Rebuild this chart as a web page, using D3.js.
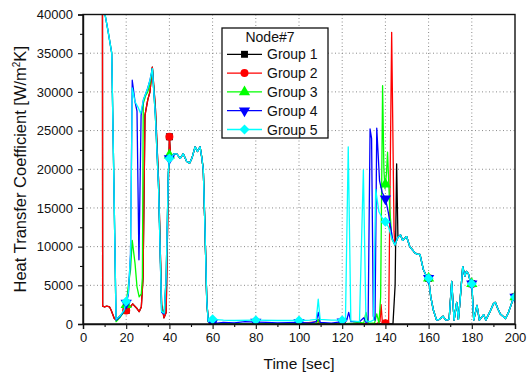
<!DOCTYPE html>
<html>
<head>
<meta charset="utf-8">
<script src="https://cdn.jsdelivr.net/npm/d3@7"></script>
<style>
  html, body { margin: 0; padding: 0; background: #fff; }
  svg { display: block; font-family: "Liberation Sans", Arial, sans-serif; }
</style>
</head>
<body>
<svg id="chart" width="530" height="376"></svg>
<script>
// ---- data: time [s], heat transfer coefficient [W/m2K] ----
const groupNames = ["Group 1", "Group 2", "Group 3", "Group 4", "Group 5"];
const groupColors = ["#000000", "#ff0000", "#00ff00", "#0000ff", "#00ffff"];
const legendTitle = "Node#7";
const xTicks = [0, 20, 40, 60, 80, 100, 120, 140, 160, 180, 200];
const yTicks = [0, 5000, 10000, 15000, 20000, 25000, 30000, 35000, 40000];
const markerTimes = [20, 40, 60, 80, 100, 120, 140, 160, 180, 200];

// plateau shared by all groups between 40 s and 58 s
const plateau = [[41,21500],[42,22000],[43.4,22000],[45,21400],[46.4,22000],[48,21000],[49.4,20800],
  [50.5,21500],[51.9,22900],[53,22300],[54.2,22900],[55,21500],[55.7,19900],[56.5,12000],[57.3,3000],[58,300]];

// common decay after the rewet around 145 s
const tail = [[145.8,11200],[147,11500],[148,10800],[149.8,11300],[151.3,10000],[152.5,9600],[153.6,9200],
  [155,9000],[156,9000],[157.6,7000],[159,6200],[160,5900],[161,3500],[162.2,1800],[163.7,500],[165,600],
  [166.7,1000],[168,500],[169.5,600],[170.7,5500],[171.8,500],[173,2800],[173.8,600],[174.5,2800],
  [175.8,7400],[176.8,6200],[177.5,6800],[178.4,6500],[179.3,5500],[180,5200],[180.9,500],[182.4,2400],
  [183.5,500],[185.5,1200],[186.5,500],[188.6,1700],[190,2600],[190.9,2800],[192,2000],[193.2,1300],
  [195.6,700],[197,1500],[199.2,3300],[200,3500]];

const early1 = [[0,46000],[9,45000],[9.1,2300],[10,2200],[11,2300],[12.3,2200],[13,1800],[14.5,700],
  [15.3,600],[17,1000],[19,1500],[20.2,1800],[21,2500],[22,2200],[23,2600],[24,2300],[25,2000],[26,1600],
  [27,2200],[27.8,6000],[28.7,27000],[30,29000],[31,30000],[32.1,33200],[33.5,28000],[35,18500],
  [36.4,2500],[37.5,800],[38.5,1500],[39.5,18000],[40,24200],[40.6,21500]];
const late1 = [[59,0],[60,0],[80,0],[100,0],[120,0],[140,0],[143.5,0],[144.5,5000],[145.2,20700]];

const early2 = early1;
const late2 = [[59,0],[60,50],[80,50],[100,50],[108.9,300],[110,50],[120,50],[136,50],[137.5,300],
  [138,2500],[138.6,200],[140,100],[141.5,200],[142.9,37700],[144,12000],[144.4,10200]];

const early3 = [[0,46000],[10.2,40000],[11.5,38000],[13.3,35000],[14.2,20000],[15.3,300],[17,800],
  [19,1600],[20,2500],[21,5000],[22,7000],[22.8,10800],[24.1,7800],[25,4800],[26,3500],[27,3900],
  [27.5,6000],[27.9,28500],[29,29500],[30,30000],[31,31000],[32.1,33000],[33.5,27000],[35,17500],
  [36.4,1800],[37.6,1400],[38.5,6000],[39.5,19500],[40,21800]];
const late3 = [[59,0],[60,0],[70,50],[80,0],[90,50],[100,0],[108,100],[108.9,600],[109.8,50],[120,0],
  [125,100],[128,200],[130,100],[131,1500],[132,100],[135,100],[136,1300],[137,100],[137.8,3500],
  [138.7,30800],[139.3,20000],[139.8,17500],[140.5,19500],[141,22200],[142,15000],[143,11000],[144.4,10200]];

const early4 = [[0,46000],[10.2,40000],[11.5,38000],[13.3,35000],[14.2,20000],[15.3,500],[17,900],
  [19,1700],[20,2700],[21,3800],[22,9000],[22.8,31500],[24.1,28700],[25,27500],[25.9,8300],[26.9,27000],
  [28,29000],[30,30500],[31,31500],[32.1,33000],[33.5,27000],[35,17500],[36.4,1500],[37.6,1300],
  [38.5,6000],[39.5,19500],[40,21400]];
const late4 = [[59,100],[60,200],[62,100],[65,200],[70,150],[75,300],[80,250],[85,200],[90,150],
  [100,200],[105,100],[108,300],[108.9,1500],[109.8,200],[115,100],[120,300],[122,400],[123,1500],
  [124,300],[128,300],[130,800],[131,200],[132,300],[132.9,25200],[133.6,24000],[134.4,1000],[135.2,500],
  [136,25300],[137.3,18500],[138.5,17000],[140,16200],[141.3,14500],[143.3,11000],[144.4,10200]];

const early5 = [[0,46000],[10.2,40000],[11.5,38000],[13.3,35000],[14.2,20000],[15.3,600],[17,1000],
  [19,1800],[20,2900],[21,4000],[22,9000],[22.8,30500],[24.1,28700],[25.5,28000],[26.7,27200],
  [28,29000],[30,30500],[31,31500],[32.1,33000],[33.5,27000],[35,17500],[36.4,1600],[37.6,1400],
  [38.5,6000],[39.5,19500],[40,21400]];
const late5 = [[59,500],[60,600],[65,500],[70,450],[80,500],[90,450],[100,450],[105,500],[108,600],
  [108.9,3200],[109.8,600],[115,500],[120,500],[121.5,400],[122.8,22900],[124,400],[128,300],
  [129.8,19900],[131,400],[133,300],[134.5,500],[135.5,17400],[137,14500],[138.5,13700],[140,13200],
  [141.5,12500],[143,11000],[144.4,10200]];

const series = [
  early1.concat(plateau, late1, tail),
  early2.concat(plateau, late2, tail),
  early3.concat(plateau, late3, tail),
  early4.concat(plateau, late4, tail),
  early5.concat(plateau, late5, tail)
];

// ---- layout ----
const svg = d3.select("#chart");
const plot = { left: 83, top: 14.5, right: 515, bottom: 324 };

const x = d3.scaleLinear().domain([0, 200]).range([plot.left, plot.right]);
const y = d3.scaleLinear().domain([0, 40000]).range([plot.bottom, plot.top]);

// grid
const grid = svg.append("g").attr("stroke", "#8a8a8a").attr("stroke-width", 1)
  .attr("stroke-dasharray", "1,2.5");
grid.selectAll("line.gx").data(xTicks.filter(d => d > 0 && d < 200)).join("line")
  .attr("x1", d => x(d)).attr("x2", d => x(d)).attr("y1", plot.top).attr("y2", plot.bottom);
grid.selectAll("line.gy").data(yTicks.filter(d => d > 0 && d < 40000)).join("line")
  .attr("x1", plot.left).attr("x2", plot.right).attr("y1", d => y(d)).attr("y2", d => y(d));

svg.append("defs").append("clipPath").attr("id", "plotClip")
  .append("rect").attr("x", plot.left).attr("y", plot.top)
  .attr("width", plot.right - plot.left).attr("height", plot.bottom - plot.top);

// symbols per group
const symbolDefs = [
  { type: d3.symbolSquare, size: 48, rot: 0 },
  { type: d3.symbolCircle, size: 50, rot: 0 },
  { type: d3.symbolTriangle, size: 55, rot: 0 },
  { type: d3.symbolTriangle, size: 55, rot: 180 },
  { type: d3.symbolSquare, size: 50, rot: 45 }
];

function valueAt(data, t) {
  const i = d3.bisector(d => d[0]).left(data, t);
  if (i <= 0) return data[0][1];
  if (i >= data.length) return data[data.length - 1][1];
  const a = data[i - 1], b = data[i];
  if (b[0] === t) return b[1];
  return a[1] + (b[1] - a[1]) * (t - a[0]) / (b[0] - a[0]);
}

const line = d3.line().x(d => x(d[0])).y(d => y(d[1]));
const marks = svg.append("g").attr("clip-path", "url(#plotClip)");

series.forEach((data, gi) => {
  const g = marks.append("g");
  g.append("path").datum(data).attr("d", line).attr("fill", "none")
    .attr("stroke", groupColors[gi]).attr("stroke-width", 1.3).attr("stroke-linejoin", "round");
  const sd = symbolDefs[gi];
  g.selectAll("path.sym").data(markerTimes.map(t => [t, valueAt(data, t)])).join("path")
    .attr("class", "sym")
    .attr("d", d3.symbol().type(sd.type).size(sd.size))
    .attr("transform", d => `translate(${x(d[0])},${y(d[1])}) rotate(${sd.rot})`)
    .attr("fill", groupColors[gi]);
});

// frame
svg.append("rect").attr("x", plot.left).attr("y", plot.top)
  .attr("width", plot.right - plot.left).attr("height", plot.bottom - plot.top)
  .attr("fill", "none").attr("stroke", "#111").attr("stroke-width", 1.4);

// axes
svg.append("g").attr("transform", `translate(0,${plot.bottom})`)
  .call(d3.axisBottom(x).tickValues(xTicks).tickSize(5).tickPadding(4).tickFormat(d3.format("d")));
svg.append("g").attr("transform", `translate(0,${plot.bottom})`)
  .call(d3.axisBottom(x).tickValues(d3.range(10, 200, 20)).tickSize(3).tickFormat(""))
  .call(g => g.select(".domain").remove());
svg.append("g").attr("transform", `translate(${plot.left},0)`)
  .call(d3.axisLeft(y).tickValues(yTicks).tickSize(5).tickPadding(5).tickFormat(d3.format("d")));
svg.append("g").attr("transform", `translate(${plot.left},0)`)
  .call(d3.axisLeft(y).tickValues(d3.range(2500, 40000, 5000)).tickSize(3).tickFormat(""))
  .call(g => g.select(".domain").remove());

svg.selectAll(".tick line").attr("stroke", "#111").attr("stroke-width", 1.1);
svg.selectAll(".domain").attr("stroke", "#111").attr("stroke-width", 1.4);
svg.selectAll(".tick text").attr("font-size", 13).attr("fill", "#111")
  .attr("font-family", "'Liberation Sans', Arial, sans-serif");

// axis titles
svg.append("text").attr("x", (plot.left + plot.right) / 2).attr("y", 369)
  .attr("text-anchor", "middle").attr("font-size", 15.5).attr("fill", "#111").text("Time [sec]");

const yt = svg.append("text").attr("transform", `translate(26,${(plot.top + plot.bottom) / 2}) rotate(-90)`)
  .attr("text-anchor", "middle").attr("font-size", 16.5).attr("fill", "#111");
yt.append("tspan").text("Heat Transfer Coefficient [W/m");
yt.append("tspan").attr("font-size", 10).attr("dy", -6).text("2");
yt.append("tspan").attr("dy", 6).text("K]");

// legend
const lg = svg.append("g");
lg.append("rect").attr("x", 222).attr("y", 28).attr("width", 106).attr("height", 110)
  .attr("fill", "#fff").attr("stroke", "#111").attr("stroke-width", 1.3);
lg.append("text").attr("x", 270).attr("y", 42).attr("text-anchor", "middle")
  .attr("font-size", 14).attr("fill", "#111").text(legendTitle);
groupNames.forEach((name, gi) => {
  const cy = 54.3 + gi * 18.8;
  lg.append("line").attr("x1", 227).attr("x2", 262).attr("y1", cy).attr("y2", cy)
    .attr("stroke", groupColors[gi]).attr("stroke-width", 1.3);
  const sd = symbolDefs[gi];
  lg.append("path").attr("d", d3.symbol().type(sd.type).size(sd.size))
    .attr("transform", `translate(244.5,${cy}) rotate(${sd.rot})`).attr("fill", groupColors[gi]);
  lg.append("text").attr("x", 267).attr("y", cy + 5).attr("font-size", 14).attr("fill", "#111").text(name);
});
</script>
</body>
</html>
